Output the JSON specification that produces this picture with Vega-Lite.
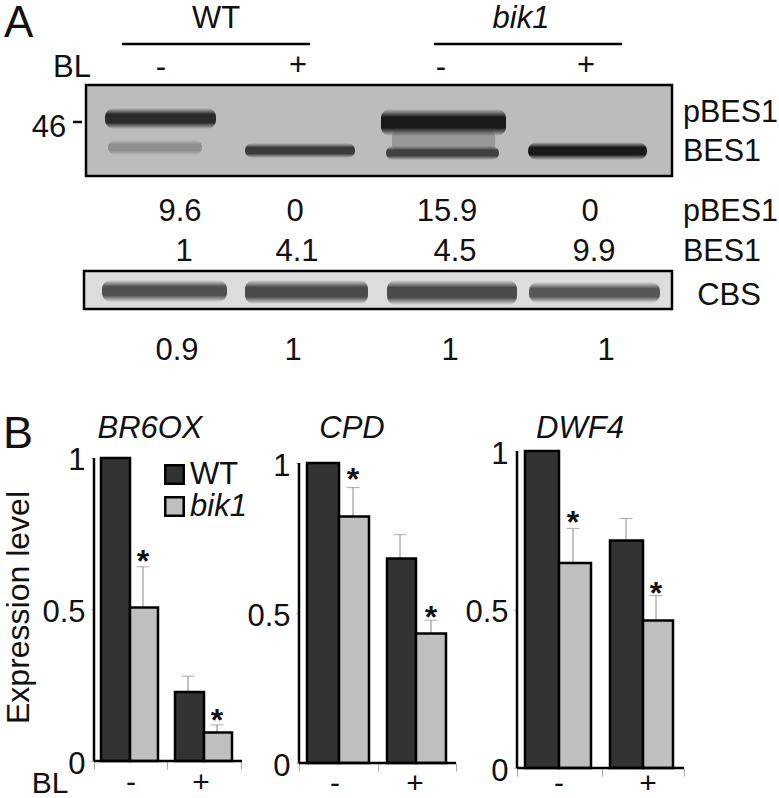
{"$schema":"https://vega.github.io/schema/vega-lite/v6.json","padding":0,"background":"white","spacing":0,"bounds":"flush","config":{"font":"Liberation Sans","view":{"stroke":null},"text":{"font":"Liberation Sans"}},
"datasets":{
"blots":[{"name":"phospho","x":86,"x2":672,"y":85,"y2":176,"shade":"#bcbcbc"},{"name":"CBS","x":84,"x2":672,"y":271,"y2":309,"shade":"#dcdcdc"}],
"bands":[
{"x":105,"x2":216,"y":108,"y2":129,"density":0.9},
{"x":381,"x2":506,"y":109,"y2":136,"density":1},
{"x":392,"x2":495,"y":128,"y2":154,"density":0.22},
{"x":108,"x2":202,"y":140,"y2":155,"density":0.28},
{"x":245,"x2":355,"y":143,"y2":158,"density":0.8},
{"x":386,"x2":499,"y":146,"y2":160,"density":0.75},
{"x":528,"x2":647,"y":142,"y2":160,"density":1},
{"x":102,"x2":227,"y":280,"y2":302,"density":0.72},
{"x":245,"x2":368,"y":280,"y2":304,"density":0.75},
{"x":387,"x2":517,"y":280,"y2":305,"density":0.75},
{"x":529,"x2":660,"y":282,"y2":303,"density":0.68}],
"lines":[{"x":122,"x2":310,"y":44},{"x":434,"x2":622,"y":44},{"x":73,"x2":82,"y":122}],
"plain":[
{"x":216,"y":19,"t":"WT"},{"x":72,"y":68,"t":"BL"},{"x":161,"y":68,"t":"-"},{"x":298,"y":66,"t":"+"},{"x":441,"y":68,"t":"-"},{"x":586,"y":66,"t":"+"},{"x":49,"y":128,"t":"46"},
{"x":180,"y":212,"t":"9.6"},{"x":295,"y":212,"t":"0"},{"x":447,"y":212,"t":"15.9"},{"x":590,"y":212,"t":"0"},
{"x":184,"y":252,"t":"1"},{"x":297,"y":252,"t":"4.1"},{"x":455,"y":252,"t":"4.5"},{"x":594,"y":252,"t":"9.9"},
{"x":729,"y":296,"t":"CBS"},
{"x":177,"y":351,"t":"0.9"},{"x":293,"y":351,"t":"1"},{"x":450,"y":351,"t":"1"},{"x":606,"y":351,"t":"1"}],
"leftText":[{"x":683,"y":113,"t":"pBES1"},{"x":683,"y":152,"t":"BES1"},{"x":683,"y":212,"t":"pBES1"},{"x":683,"y":252,"t":"BES1"}],
"bars":[
{"gene":"BR6OX","bl":"-","group":"WT","start":101,"end":130,"value":1},
{"gene":"BR6OX","bl":"-","group":"bik1","start":130,"end":158,"mid":143,"value":0.507,"err":0.641,"star":0.686,"sig":"*"},
{"gene":"BR6OX","bl":"+","group":"WT","start":175,"end":204,"mid":188,"value":0.228,"err":0.28},
{"gene":"BR6OX","bl":"+","group":"bik1","start":204,"end":232,"mid":217,"value":0.094,"err":0.119,"star":0.162,"sig":"*"},
{"gene":"CPD","bl":"-","group":"WT","start":307,"end":339,"value":1},
{"gene":"CPD","bl":"-","group":"bik1","start":339,"end":369,"mid":353,"value":0.822,"err":0.918,"star":0.973,"sig":"*"},
{"gene":"CPD","bl":"+","group":"WT","start":387,"end":416,"mid":400,"value":0.682,"err":0.761},
{"gene":"CPD","bl":"+","group":"bik1","start":416,"end":446,"mid":431,"value":0.432,"err":0.476,"star":0.513,"sig":"*"},
{"gene":"DWF4","bl":"-","group":"WT","start":525,"end":559,"value":1},
{"gene":"DWF4","bl":"-","group":"bik1","start":559,"end":591,"mid":573,"value":0.647,"err":0.756,"star":0.801,"sig":"*"},
{"gene":"DWF4","bl":"+","group":"WT","start":610,"end":643,"mid":626,"value":0.718,"err":0.787},
{"gene":"DWF4","bl":"+","group":"bik1","start":643,"end":673,"mid":656,"value":0.465,"err":0.544,"star":0.577,"sig":"*"}],
"panels":[
{"gene":"BR6OX","axisX":94,"endX":242,"titleX":150,"titleY":1.095},
{"gene":"CPD","axisX":299,"endX":456,"titleX":352,"titleY":1.113},
{"gene":"DWF4","axisX":517,"endX":684,"titleX":580,"titleY":1.07}],
"blTicks":[
{"gene":"BR6OX","x":131,"y":-0.072,"t":"-"},{"gene":"BR6OX","x":201,"y":-0.072,"t":"+"},
{"gene":"CPD","x":335,"y":-0.07,"t":"-"},{"gene":"CPD","x":415,"y":-0.07,"t":"+"},
{"gene":"DWF4","x":559,"y":-0.05,"t":"-"},{"gene":"DWF4","x":648,"y":-0.05,"t":"+"}]
},
"vconcat":[
{"width":779,"height":400,
"encoding":{"x":{"field":"x","type":"quantitative","scale":{"domain":[0,779]},"axis":null},"y":{"field":"y","type":"quantitative","scale":{"domain":[0,400],"reverse":true},"axis":null}},
"layer":[
{"data":{"name":"blots"},"mark":{"type":"rect","stroke":"black","strokeWidth":2.5},"encoding":{"x2":{"field":"x2"},"y2":{"field":"y2"},"fill":{"field":"shade","type":"nominal","scale":null}}},
{"data":{"name":"bands"},"mark":{"type":"rect","cornerRadius":9,"fill":{"gradient":"linear","x1":0,"y1":0,"x2":0,"y2":1,"stops":[{"offset":0,"color":"rgba(25,25,25,0)"},{"offset":0.3,"color":"rgba(25,25,25,1)"},{"offset":0.7,"color":"rgba(25,25,25,1)"},{"offset":1,"color":"rgba(25,25,25,0)"}]}},"encoding":{"x2":{"field":"x2"},"y2":{"field":"y2"},"opacity":{"field":"density","type":"quantitative","scale":null}}},
{"data":{"name":"lines"},"mark":{"type":"rule","color":"black","strokeWidth":2.5},"encoding":{"x2":{"field":"x2"}}},
{"data":{"name":"plain"},"mark":{"type":"text","fontSize":31,"color":"#111111"},"encoding":{"text":{"field":"t"}}},
{"data":{"name":"leftText"},"mark":{"type":"text","fontSize":30.5,"align":"left","color":"#111111"},"encoding":{"text":{"field":"t"}}},
{"data":{"values":[{"x":521,"y":19,"t":"bik1"}]},"mark":{"type":"text","fontSize":31,"fontStyle":"italic","color":"#111111"},"encoding":{"text":{"field":"t"}}},
{"data":{"values":[{"x":4,"y":24,"t":"A"}]},"mark":{"type":"text","fontSize":44,"align":"left","color":"#111111"},"encoding":{"text":{"field":"t"}}}
]},
{"spacing":0,"bounds":"flush","resolve":{"scale":{"color":"shared"},"legend":{"color":"independent"}},
"hconcat":[
{"width":265,"height":361,
"encoding":{"x":{"type":"quantitative","scale":{"domain":[0,265]},"axis":{"values":[94,167,241],"labels":false,"title":null,"domain":false,"grid":false,"tickSize":8,"tickColor":"#aaaaaa"}},"y":{"type":"quantitative","scale":{"domain":[0,1.1914],"nice":false},"axis":{"values":[0,0.5,1],"labelExpr":"datum.value","offset":-94,"domain":false,"grid":false,"tickSize":3,"tickColor":"#aaaaaa","labelFontSize":31,"labelColor":"#111111","labelPadding":6,"labelOffset":3,"title":"Expression level","titleFontSize":32,"titleFontWeight":"normal","titleColor":"#111111","titlePadding":6,"titleY":207}}},
"layer":[
{"data":{"name":"bars"},"transform":[{"filter":"datum.gene=='BR6OX'"}],"mark":{"type":"rule","color":"#888888","strokeWidth":1},"encoding":{"x":{"field":"mid"},"y":{"field":"value"},"y2":{"field":"err"}}},
{"data":{"name":"bars"},"transform":[{"filter":"datum.gene=='BR6OX' && datum.err!=null"}],"mark":{"type":"tick","orient":"horizontal","size":13,"thickness":1,"color":"#888888"},"encoding":{"x":{"field":"mid"},"y":{"field":"err"}}},
{"data":{"name":"bars"},"transform":[{"filter":"datum.gene=='BR6OX'"}],"mark":{"type":"rect","stroke":"black","strokeWidth":2.5},"encoding":{"x":{"field":"start"},"x2":{"field":"end"},"y":{"field":"value"},"y2":{"datum":0},"fill":{"field":"group","type":"nominal","scale":{"domain":["WT","bik1"],"range":["#333333","#bfbfbf"]},"legend":{"orient":"none","legendX":159,"legendY":459,"title":null,"symbolType":"square","symbolSize":340,"symbolStrokeColor":"black","symbolStrokeWidth":2.5,"labelFontSize":31,"labelColor":"#111111","labelOffset":0,"rowPadding":0,"encode":{"labels":{"update":{"fontStyle":{"signal":"datum.label=='bik1'?'italic':'normal'"}}}}}}}},
{"data":{"name":"bars"},"transform":[{"filter":"datum.gene=='BR6OX' && datum.star!=null"}],"mark":{"type":"text","fontSize":32,"fontWeight":"bold","dy":9,"color":"#111111"},"encoding":{"x":{"field":"mid"},"y":{"field":"star"},"text":{"field":"sig"}}},
{"data":{"name":"panels"},"transform":[{"filter":"datum.gene=='BR6OX'"}],"mark":{"type":"rule","color":"black","strokeWidth":2.5},"encoding":{"x":{"field":"axisX"},"y":{"datum":0},"y2":{"datum":1}}},
{"data":{"name":"panels"},"transform":[{"filter":"datum.gene=='BR6OX'"}],"mark":{"type":"rule","color":"black","strokeWidth":2.5},"encoding":{"x":{"field":"axisX"},"x2":{"field":"endX"},"y":{"datum":0}}},
{"data":{"name":"panels"},"transform":[{"filter":"datum.gene=='BR6OX'"}],"mark":{"type":"text","fontSize":31,"fontStyle":"italic","color":"#111111"},"encoding":{"x":{"field":"titleX"},"y":{"field":"titleY"},"text":{"field":"gene"}}},
{"data":{"name":"blTicks"},"transform":[{"filter":"datum.gene=='BR6OX'"}],"mark":{"type":"text","fontSize":30,"color":"#111111"},"encoding":{"x":{"field":"x"},"y":{"field":"y"},"text":{"field":"t"}}},
{"data":{"values":[{"x":50,"y":-0.076,"t":"BL"}]},"mark":{"type":"text","fontSize":30,"color":"#111111"},"encoding":{"x":{"field":"x"},"y":{"field":"y"},"text":{"field":"t"}}},
{"data":{"values":[{"x":3,"y":1.08,"t":"B"}]},"mark":{"type":"text","fontSize":45,"align":"left","color":"#111111"},"encoding":{"x":{"field":"x"},"y":{"field":"y"},"text":{"field":"t"}}}
]},
{"width":205,"height":363,
"encoding":{"x":{"type":"quantitative","scale":{"domain":[265,470]},"axis":{"values":[299,378,456],"labels":false,"title":null,"domain":false,"grid":false,"tickSize":8,"tickColor":"#aaaaaa"}},"y":{"type":"quantitative","scale":{"domain":[0,1.21],"nice":false},"axis":{"values":[0,0.5,1],"labelExpr":"datum.value","offset":-34,"domain":false,"grid":false,"tickSize":3,"tickColor":"#aaaaaa","labelFontSize":31,"labelColor":"#111111","labelPadding":6,"labelOffset":3,"title":null}}},
"layer":[
{"data":{"name":"bars"},"transform":[{"filter":"datum.gene=='CPD'"}],"mark":{"type":"rule","color":"#888888","strokeWidth":1},"encoding":{"x":{"field":"mid"},"y":{"field":"value"},"y2":{"field":"err"}}},
{"data":{"name":"bars"},"transform":[{"filter":"datum.gene=='CPD' && datum.err!=null"}],"mark":{"type":"tick","orient":"horizontal","size":13,"thickness":1,"color":"#888888"},"encoding":{"x":{"field":"mid"},"y":{"field":"err"}}},
{"data":{"name":"bars"},"transform":[{"filter":"datum.gene=='CPD'"}],"mark":{"type":"rect","stroke":"black","strokeWidth":2.5},"encoding":{"x":{"field":"start"},"x2":{"field":"end"},"y":{"field":"value"},"y2":{"datum":0},"fill":{"field":"group","type":"nominal","scale":{"domain":["WT","bik1"],"range":["#333333","#bfbfbf"]},"legend":null}}},
{"data":{"name":"bars"},"transform":[{"filter":"datum.gene=='CPD' && datum.star!=null"}],"mark":{"type":"text","fontSize":32,"fontWeight":"bold","dy":9,"color":"#111111"},"encoding":{"x":{"field":"mid"},"y":{"field":"star"},"text":{"field":"sig"}}},
{"data":{"name":"panels"},"transform":[{"filter":"datum.gene=='CPD'"}],"mark":{"type":"rule","color":"black","strokeWidth":2.5},"encoding":{"x":{"field":"axisX"},"y":{"datum":0},"y2":{"datum":1}}},
{"data":{"name":"panels"},"transform":[{"filter":"datum.gene=='CPD'"}],"mark":{"type":"rule","color":"black","strokeWidth":2.5},"encoding":{"x":{"field":"axisX"},"x2":{"field":"endX"},"y":{"datum":0}}},
{"data":{"name":"panels"},"transform":[{"filter":"datum.gene=='CPD'"}],"mark":{"type":"text","fontSize":31,"fontStyle":"italic","color":"#111111"},"encoding":{"x":{"field":"titleX"},"y":{"field":"titleY"},"text":{"field":"gene"}}},
{"data":{"name":"blTicks"},"transform":[{"filter":"datum.gene=='CPD'"}],"mark":{"type":"text","fontSize":30,"color":"#111111"},"encoding":{"x":{"field":"x"},"y":{"field":"y"},"text":{"field":"t"}}}
]},
{"width":309,"height":368,
"encoding":{"x":{"type":"quantitative","scale":{"domain":[470,779]},"axis":{"values":[517,602,684],"labels":false,"title":null,"domain":false,"grid":false,"tickSize":8,"tickColor":"#aaaaaa"}},"y":{"type":"quantitative","scale":{"domain":[0,1.1609],"nice":false},"axis":{"values":[0,0.5,1],"labelExpr":"datum.value","offset":-47,"domain":false,"grid":false,"tickSize":3,"tickColor":"#aaaaaa","labelFontSize":31,"labelColor":"#111111","labelPadding":6,"labelOffset":3,"title":null}}},
"layer":[
{"data":{"name":"bars"},"transform":[{"filter":"datum.gene=='DWF4'"}],"mark":{"type":"rule","color":"#888888","strokeWidth":1},"encoding":{"x":{"field":"mid"},"y":{"field":"value"},"y2":{"field":"err"}}},
{"data":{"name":"bars"},"transform":[{"filter":"datum.gene=='DWF4' && datum.err!=null"}],"mark":{"type":"tick","orient":"horizontal","size":13,"thickness":1,"color":"#888888"},"encoding":{"x":{"field":"mid"},"y":{"field":"err"}}},
{"data":{"name":"bars"},"transform":[{"filter":"datum.gene=='DWF4'"}],"mark":{"type":"rect","stroke":"black","strokeWidth":2.5},"encoding":{"x":{"field":"start"},"x2":{"field":"end"},"y":{"field":"value"},"y2":{"datum":0},"fill":{"field":"group","type":"nominal","scale":{"domain":["WT","bik1"],"range":["#333333","#bfbfbf"]},"legend":null}}},
{"data":{"name":"bars"},"transform":[{"filter":"datum.gene=='DWF4' && datum.star!=null"}],"mark":{"type":"text","fontSize":32,"fontWeight":"bold","dy":9,"color":"#111111"},"encoding":{"x":{"field":"mid"},"y":{"field":"star"},"text":{"field":"sig"}}},
{"data":{"name":"panels"},"transform":[{"filter":"datum.gene=='DWF4'"}],"mark":{"type":"rule","color":"black","strokeWidth":2.5},"encoding":{"x":{"field":"axisX"},"y":{"datum":0},"y2":{"datum":1}}},
{"data":{"name":"panels"},"transform":[{"filter":"datum.gene=='DWF4'"}],"mark":{"type":"rule","color":"black","strokeWidth":2.5},"encoding":{"x":{"field":"axisX"},"x2":{"field":"endX"},"y":{"datum":0}}},
{"data":{"name":"panels"},"transform":[{"filter":"datum.gene=='DWF4'"}],"mark":{"type":"text","fontSize":31,"fontStyle":"italic","color":"#111111"},"encoding":{"x":{"field":"titleX"},"y":{"field":"titleY"},"text":{"field":"gene"}}},
{"data":{"name":"blTicks"},"transform":[{"filter":"datum.gene=='DWF4'"}],"mark":{"type":"text","fontSize":30,"color":"#111111"},"encoding":{"x":{"field":"x"},"y":{"field":"y"},"text":{"field":"t"}}}
]}
]}
]}
